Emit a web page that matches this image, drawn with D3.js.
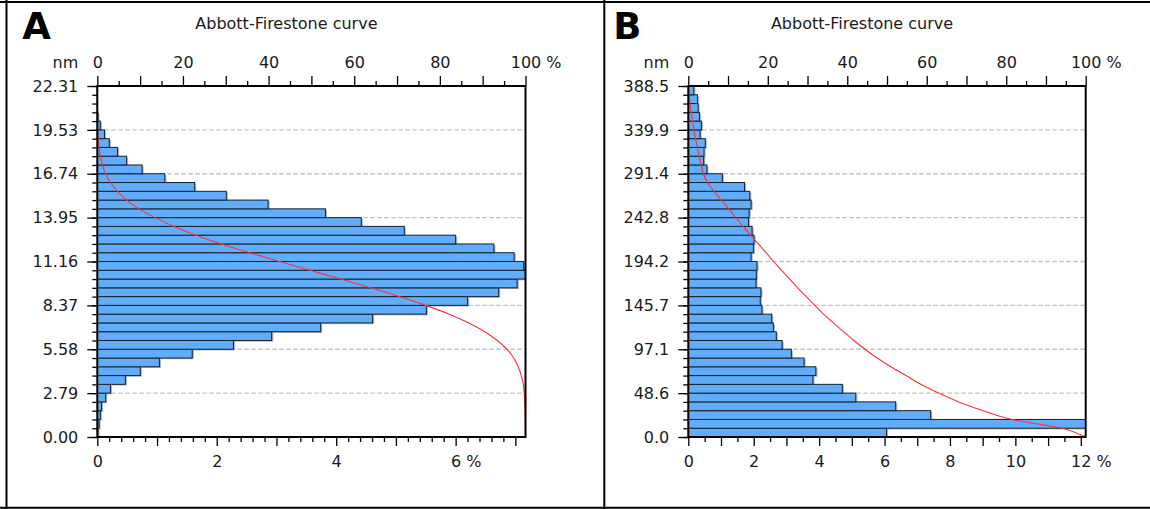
<!DOCTYPE html>
<html>
<head>
<meta charset="utf-8">
<script src="https://cdn.jsdelivr.net/npm/d3@7"></script>
<style>
  body { margin: 0; background: #fff; }
  text { font-family: "DejaVu Sans", sans-serif; fill: #1a1a1a; }
</style>
</head>
<body>
<svg id="chart" width="1150" height="509"></svg>
<script>
// ----------------------------------------
//  Data
// ----------------------------------------

var title = "Abbott-Firestone curve";
var panelNames = ["A", "B"];

// height classes, 40 bins from 0 to max height (nm), bottom bin first
var heightMaxA = 22.31;
var heightLabelsA = ["0.00", "2.79", "5.58", "8.37", "11.16", "13.95", "16.74", "19.53", "22.31"];
var freqA = [0.01, 0.03, 0.05, 0.07, 0.14, 0.22, 0.47, 0.72, 1.04, 1.59,
             2.28, 2.92, 3.74, 4.61, 5.51, 6.20, 6.72, 7.03, 7.19, 7.14,
             6.98, 6.64, 6.00, 5.14, 4.42, 3.82, 2.86, 2.16, 1.63, 1.13,
             0.75, 0.49, 0.34, 0.20, 0.12, 0.05, 0.01, 0, 0, 0];

var heightMaxB = 388.5;
var heightLabelsB = ["0.0", "48.6", "97.1", "145.7", "194.2", "242.8", "291.4", "339.9", "388.5"];
var freqB = [6.06, 13.0, 7.41, 6.34, 5.12, 4.71, 3.81, 3.90, 3.54, 3.15,
             2.87, 2.69, 2.60, 2.55, 2.25, 2.20, 2.22, 2.07, 2.08, 2.10,
             1.92, 1.99, 2.01, 1.95, 1.84, 1.86, 1.92, 1.88, 1.72, 1.04,
             0.57, 0.47, 0.48, 0.52, 0.36, 0.40, 0.34, 0.30, 0.28, 0.17];

// bottom axis (% of points per class) and top axis (material ratio %)
var pctMaxA = 7.17, pctMinorA = 0.2;
var pctMaxB = 12.15, pctMinorB = 0.5;
var ratioTicks = [0, 20, 40, 60, 80, 100];

// ----------------------------------------
//  Layout
// ----------------------------------------

var width = 1150, height = 509;
var svg = d3.select("#chart");

var panels = [
  { name: panelNames[0], left: 97.3, right: 525.5, hMax: heightMaxA, labels: heightLabelsA,
    freq: freqA, pMax: pctMaxA, pMinor: pctMinorA },
  { name: panelNames[1], left: 688.3, right: 1085.7, hMax: heightMaxB, labels: heightLabelsB,
    freq: freqB, pMax: pctMaxB, pMinor: pctMinorB }
];
var plotTop = 86, plotBottom = 437;

// outer frame of the figure
var frame = svg.append("g").attr("stroke", "#000").attr("stroke-width", 2);
frame.append("line").attr("x1", 0).attr("x2", width).attr("y1", 2).attr("y2", 2);
frame.append("line").attr("x1", 6.5).attr("x2", 6.5).attr("y1", 0).attr("y2", height);
frame.append("line").attr("x1", 604.3).attr("x2", 604.3).attr("y1", 0).attr("y2", height);
frame.append("line").attr("x1", 0).attr("x2", width).attr("y1", 507.7).attr("y2", 507.7);

panels.forEach(function(p, pi) {
  var g = svg.append("g");
  var n = p.freq.length;
  var bin = p.hMax / n;

  var x = d3.scaleLinear().domain([0, p.pMax]).range([p.left, p.right]);
  var xr = d3.scaleLinear().domain([0, 100]).range([p.left, p.right]);
  var y = d3.scaleLinear().domain([0, p.hMax]).range([plotBottom, plotTop]);

  // letter + title
  g.append("text").attr("x", p.left - 75).attr("y", 39)
    .attr("font-size", 37).attr("font-weight", "bold").style("fill", "#000")
    .text(p.name);
  g.append("text").attr("x", (p.left + p.right) / 2 - 25).attr("y", 29)
    .attr("text-anchor", "middle").attr("font-size", 16).text(title);
  g.append("text").attr("x", p.left - 19).attr("y", 68)
    .attr("text-anchor", "end").attr("font-size", 16).text("nm");

  var clipId = "clip" + pi;
  svg.append("clipPath").attr("id", clipId).append("rect")
    .attr("x", p.left).attr("y", plotTop).attr("width", p.right - p.left).attr("height", plotBottom - plotTop);

  // dashed grid at labelled heights
  g.append("g").selectAll("line")
    .data(d3.range(1, p.labels.length - 1))
    .join("line")
    .attr("x1", p.left).attr("x2", p.right)
    .attr("y1", function(i) { return y(i * p.hMax / 8); })
    .attr("y2", function(i) { return y(i * p.hMax / 8); })
    .attr("stroke", "#c4c4c4").attr("stroke-width", 1.3).attr("stroke-dasharray", "4.5,2.5");

  // bars
  var bars = p.freq.map(function(v, k) { return { k: k, v: v }; })
    .filter(function(d) { return d.v > 0; });
  var bg = g.append("g").attr("clip-path", "url(#" + clipId + ")");
  bg.selectAll("rect.shadow").data(bars).join("rect").attr("class", "shadow")
    .attr("x", p.left)
    .attr("y", function(d) { return y((d.k + 1) * bin) + 1.2; })
    .attr("width", function(d) { return x(d.v) - p.left + 1.6; })
    .attr("height", y(0) - y(bin))
    .attr("fill", "#7a7a7a").attr("opacity", 0.55);
  bg.selectAll("rect.bar").data(bars).join("rect").attr("class", "bar")
    .attr("x", p.left)
    .attr("y", function(d) { return y((d.k + 1) * bin); })
    .attr("width", function(d) { return x(d.v) - p.left; })
    .attr("height", y(0) - y(bin))
    .attr("fill", "#62adfa").attr("stroke", "#15202c").attr("stroke-width", 1);

  // Abbott-Firestone curve: share of the histogram above each class edge
  var total = d3.sum(p.freq);
  var above = d3.range(n + 1).map(function(j) {
    return { h: j * bin, r: d3.sum(p.freq.slice(j)) / total * 100 };
  });
  g.append("path").datum(above)
    .attr("fill", "none").attr("stroke", "#ff3030").attr("stroke-width", 1.1)
    .attr("d", d3.line()
      .x(function(d) { return xr(d.r); })
      .y(function(d) { return y(d.h); })
      .curve(d3.curveMonotoneY));

  // axes
  function style(a) {
    a.select(".domain").remove();
    a.attr("font-size", 16).attr("font-family", "DejaVu Sans");
    a.selectAll("line").attr("stroke", "#000").attr("stroke-width", 1.3);
    return a;
  }
  function percentSign(a) {
    a.selectAll(".tick text").filter(function() { return this.textContent !== ""; })
      .filter(function(d, i, nodes) { return i === nodes.length - 1; })
      .each(function() {
        var w = this.getComputedTextLength();
        d3.select(this).attr("text-anchor", "start").attr("x", -w / 2).text(this.textContent + " %");
      });
  }

  style(g.append("g").attr("transform", "translate(" + p.left + ",0)")
    .call(d3.axisLeft(y).tickValues(d3.range(n + 1).map(function(j) { return j * bin; }))
      .tickFormat("").tickSize(5).tickSizeOuter(0)));
  style(g.append("g").attr("transform", "translate(" + p.left + ",0)")
    .call(d3.axisLeft(y).tickValues(d3.range(9).map(function(i) { return i * p.hMax / 8; }))
      .tickFormat(function(d, i) { return p.labels[i]; }).tickSize(10).tickPadding(9).tickSizeOuter(0)));

  style(g.append("g").attr("transform", "translate(0," + plotTop + ")")
    .call(d3.axisTop(xr).tickValues(d3.range(5, 100, 10)).tickFormat("").tickSize(5).tickSizeOuter(0)));
  var topAxis = style(g.append("g").attr("transform", "translate(0," + plotTop + ")")
    .call(d3.axisTop(xr).tickValues(d3.range(0, 101, 10))
      .tickFormat(function(d) { return ratioTicks.indexOf(d) >= 0 ? d : ""; })
      .tickSize(10).tickPadding(8).tickSizeOuter(0)));
  percentSign(topAxis);

  var minor = d3.range(0, p.pMax, p.pMinor).filter(function(d) {
    return Math.abs(d - Math.round(d)) > 1e-6;
  });
  style(g.append("g").attr("transform", "translate(0," + plotBottom + ")")
    .call(d3.axisBottom(x).tickValues(minor).tickFormat("").tickSize(5).tickSizeOuter(0)));
  var botAxis = style(g.append("g").attr("transform", "translate(0," + plotBottom + ")")
    .call(d3.axisBottom(x).tickValues(d3.range(0, Math.floor(p.pMax) + 1))
      .tickFormat(function(d) { return d % 2 === 0 ? d : ""; })
      .tickSize(9).tickPadding(10).tickSizeOuter(0)));
  percentSign(botAxis);

  // plot frame
  g.append("rect").attr("x", p.left).attr("y", plotTop)
    .attr("width", p.right - p.left).attr("height", plotBottom - plotTop)
    .attr("fill", "none").attr("stroke", "#000").attr("stroke-width", 2);
});
</script>
</body>
</html>
